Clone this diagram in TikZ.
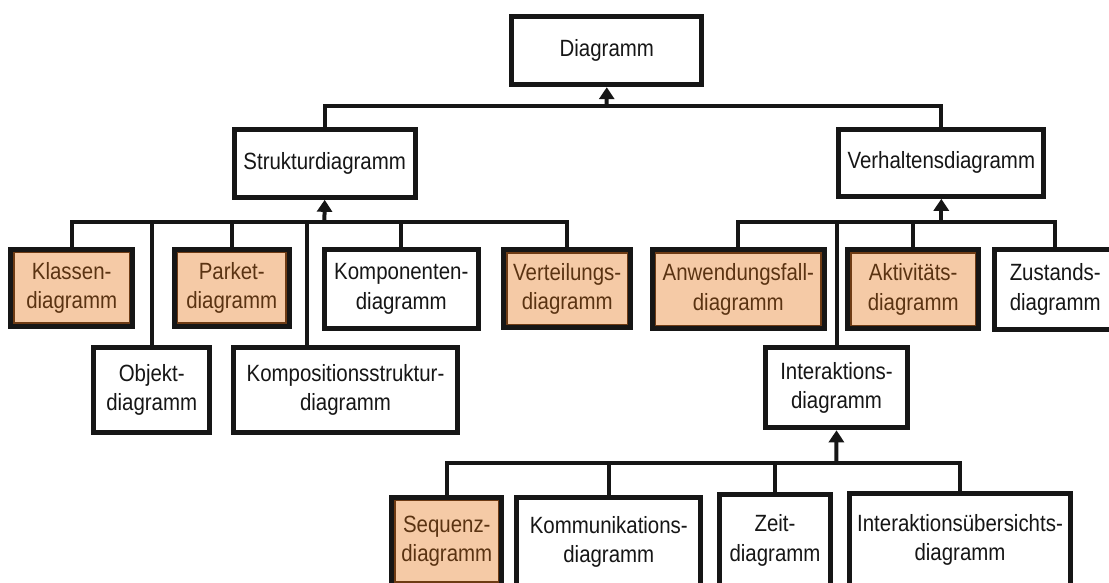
\documentclass[tikz,border=0pt]{standalone}
\usepackage{fontspec}
\setmainfont{Liberation Sans}[FakeStretch=0.87]
\usetikzlibrary{arrows.meta}
\definecolor{peach}{HTML}{F5CAA6}
\definecolor{umber}{HTML}{6E3B14}
\definecolor{ink}{HTML}{161616}
\definecolor{brownink}{HTML}{5A3312}

\begin{document}
\begin{tikzpicture}[x=1pt,y=-1pt,
  box/.style={draw=ink, line width=5pt, fill=white, align=center, inner sep=0pt,
    font=\fontsize{23.5}{29.5}\selectfont, text=ink},
  hot/.style={box, fill=peach, text=brownink,
    path picture={\draw[umber, line width=8pt]
      (path picture bounding box.south west) rectangle (path picture bounding box.north east);}},
  link/.style={draw=ink, line width=4pt},
  up/.style={link, -{Triangle[width=15pt,length=12pt]}}
]
\useasboundingbox (0,0) rectangle (1109,583);
\clip (0,0) rectangle (1109,583);

% root and the two main branches
\node[box, minimum width=190pt, minimum height=68pt] (diag) at (606.8,50.7) {Diagramm};
\node[box, minimum width=181pt, minimum height=68pt] (struk) at (324.7,163.3) {Strukturdiagramm};
\node[box, minimum width=205pt, minimum height=67pt] (verh) at (941.3,162.8) {Verhaltensdiagramm};

% structure diagrams
\node[hot, minimum width=121.7pt, minimum height=77.3pt] (klassen) at (71.7,287.8) {Klassen-\\diagramm};
\node[hot, minimum width=115pt, minimum height=76.7pt] (paket) at (231.7,287.8) {Parket-\\diagramm};
\node[box, minimum width=154.3pt, minimum height=78.7pt] (kompon) at (401.3,288.8) {Komponenten-\\diagramm};
\node[hot, minimum width=127.3pt, minimum height=78.3pt] (verteil) at (567.2,288.7) {Verteilungs-\\diagramm};
\node[box, minimum width=116.3pt, minimum height=85pt] (objekt) at (151.7,389.7) {Objekt-\\diagramm};
\node[box, minimum width=224pt, minimum height=85pt] (kompos) at (345.5,389.7) {Kompositionsstruktur-\\diagramm};

% behaviour diagrams
\node[hot, minimum width=171.7pt, minimum height=79.3pt] (anwend) at (738.3,289.2) {Anwendungsfall-\\diagramm};
\node[hot, minimum width=131.3pt, minimum height=79.3pt] (aktiv) at (913.2,289.2) {Aktivitäts-\\diagramm};
\node[box, minimum width=120.7pt, minimum height=80pt] (zustand) at (1055.2,289.5) {Zustands-\\diagramm};
\node[box, minimum width=141.4pt, minimum height=80pt] (interakt) at (836.5,387.8) {Interaktions-\\diagramm};

% interaction diagrams
\node[hot, minimum width=110pt, minimum height=88.3pt] (sequenz) at (446.8,541.3) {Sequenz-\\diagramm};
\node[box, minimum width=184pt, minimum height=87.7pt] (kommun) at (608.8,541.7) {Kommunikations-\\diagramm};
\node[box, minimum width=111.6pt, minimum height=90.7pt] (zeit) at (775,540.2) {Zeit-\\diagramm};
\node[box, minimum width=221.6pt, minimum height=91.7pt] (uebers) at (960,539.7) {Interaktionsübersichts-\\diagramm};

% junction points of the generalisation trees
\coordinate (j0) at (606.7,106.5);
\coordinate (j1) at (324.4,221.7);
\coordinate (j2) at (941.3,221.7);
\coordinate (j3) at (836.3,463);

\draw[link] (struk.north) |- (j0) -| (verh.north);
\draw[up] (j0) -- (diag.south);

\foreach \n in {klassen,objekt,paket,kompon,verteil}
  \draw[link] (\n.north) |- (j1);
\draw[link] ([xshift=-38.8pt]kompos.north) |- (j1);
\draw[up] (j1) -- (struk.south);

\foreach \n in {anwend,interakt,aktiv,zustand}
  \draw[link] (\n.north) |- (j2);
\draw[up] (j2) -- (verh.south);

\foreach \n in {sequenz,kommun,zeit,uebers}
  \draw[link] (\n.north) |- (j3);
\draw[up] (j3) -- (interakt.south);
\end{tikzpicture}
\end{document}
